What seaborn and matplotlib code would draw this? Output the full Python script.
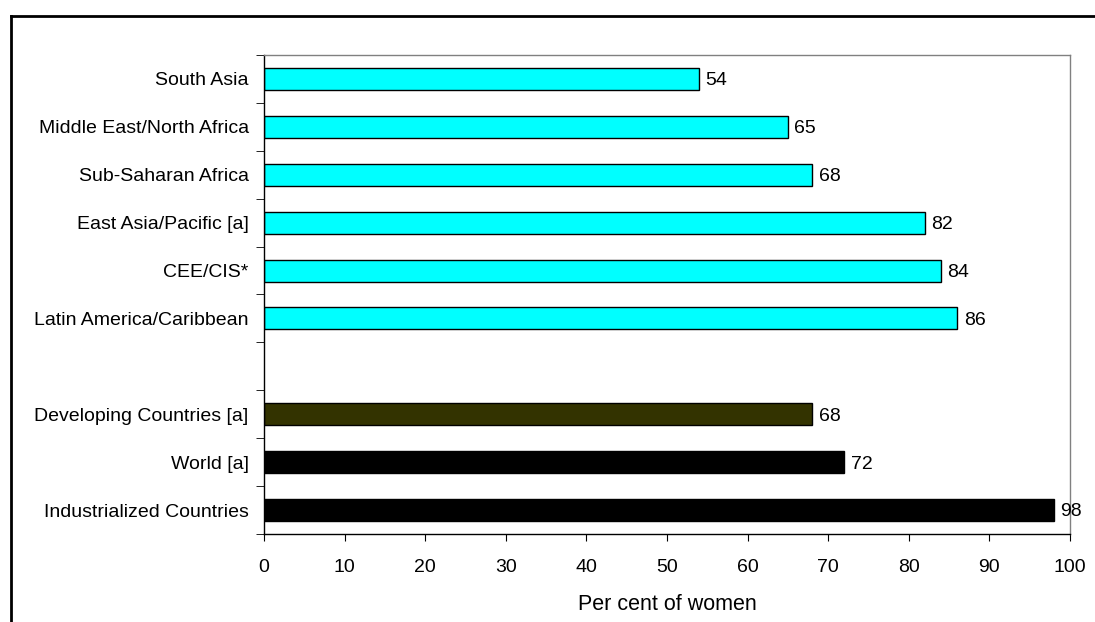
import seaborn as sns
import matplotlib.pyplot as plt
import pandas as pd
import numpy as np

# Data
regions = ['South Asia', 'Middle East/North Africa', 'Sub-Saharan Africa',
           'East Asia/Pacific [a]', 'CEE/CIS*', 'Latin America/Caribbean',
           'Developing Countries [a]', 'World [a]', 'Industrialized Countries']
values = [54, 65, 68, 82, 84, 86, 68, 72, 98]
bar_colors = ['#00FFFF'] * 6 + ['#333300', '#000000', '#000000']

# empty slot between the regional and aggregate groups
order = regions[:6] + [' '] + regions[6:]

df = pd.DataFrame({'region': regions, 'value': values})
palette = dict(zip(regions, bar_colors))

plt.rcParams['font.family'] = ['Liberation Sans', 'DejaVu Sans']

fig = plt.figure(figsize=(10.95, 6.22), dpi=100)
ax = fig.add_axes([0.2411, 0.1415, 0.7361, 0.7701])

sns.barplot(data=df, y='region', x='value', hue='region', order=order,
            palette=palette, saturation=1, legend=False, orient='h', width=0.46,
            edgecolor='black', linewidth=1, ax=ax)

# value labels at bar ends
for r, v in zip(regions, values):
    ax.text(v + 0.8, order.index(r) + 0.04, str(v), va='center', ha='left', fontsize=14)

ax.set_xlim(0, 100)
ax.set_ylim(len(order) - 0.5, -0.5)
ax.set_xticks(range(0, 101, 10))
ax.tick_params(axis='x', length=5, labelsize=14, pad=13)
ax.tick_params(axis='y', which='major', length=0, labelsize=14, pad=11)
ax.set_yticks(np.arange(-0.5, len(order), 1), minor=True)
ax.tick_params(axis='y', which='minor', length=6)

ax.set_xlabel('Per cent of women', fontsize=15.5, labelpad=13)
ax.set_ylabel('')

for side in ['top', 'right']:
    ax.spines[side].set_color('#808080')
    ax.spines[side].set_linewidth(1)
for side in ['left', 'bottom']:
    ax.spines[side].set_color('black')
    ax.spines[side].set_linewidth(1)

# outer frame (left and top edges visible)
fig.add_artist(plt.Line2D([0.0105, 0.0105], [0.0, 0.974], color='black', lw=2))
fig.add_artist(plt.Line2D([0.0105, 1.0], [0.974, 0.974], color='black', lw=2))

fig.savefig('out.png', dpi=100)
